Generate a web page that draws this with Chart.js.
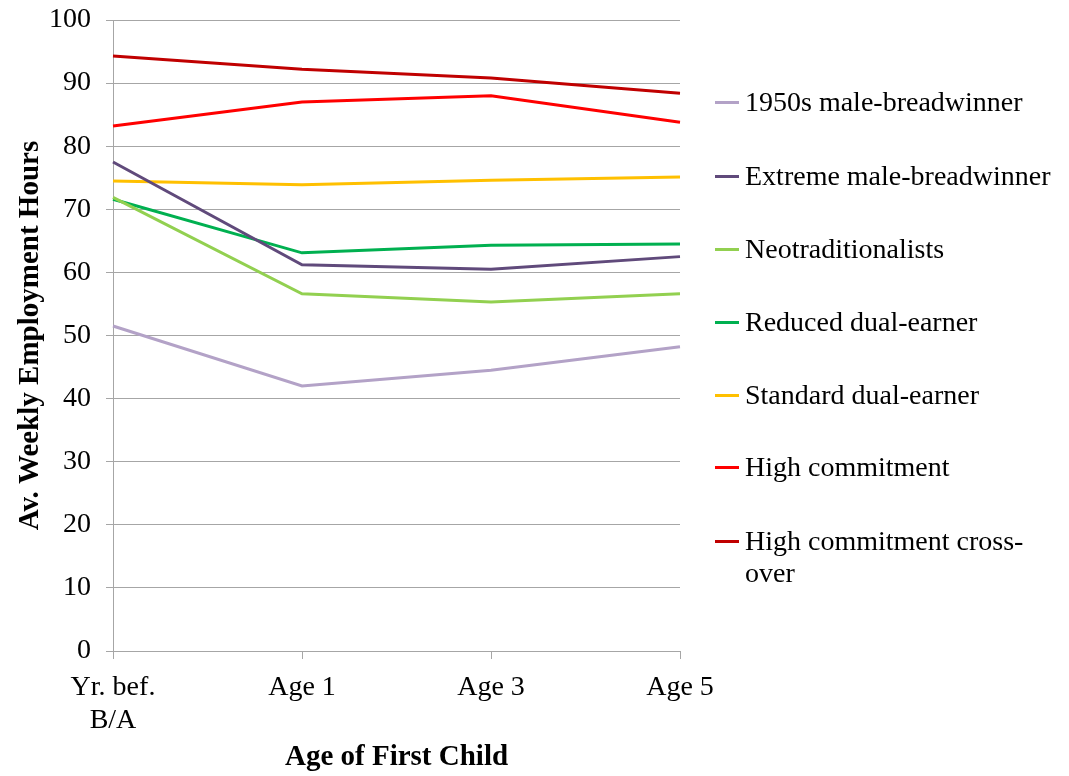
<!DOCTYPE html>
<html>
<head>
<meta charset="utf-8">
<script src="https://cdn.jsdelivr.net/npm/chart.js@4/dist/chart.umd.min.js"></script>
<style>
  html, body { margin:0; padding:0; background:#fff; }
  #wrap { position:relative; width:1069px; height:776px; overflow:hidden; }
  canvas { position:absolute; left:0; top:0; }
  #legend { position:absolute; left:715px; top:0; font-family:"Liberation Serif","Times New Roman",serif; font-size:28px; color:#000; }
  .item { position:absolute; left:0; width:354px; display:flex; align-items:flex-start; }
  .sw { width:24px; height:3px; margin-top:15px; margin-right:6px; flex:none; }
  .lbl { line-height:32px; white-space:normal; width:324px; }
</style>
</head>
<body>
<div id="wrap">
<canvas id="c" width="1069" height="776"></canvas>
<div id="legend"></div>
</div>
<script>
const categories = [["Yr. bef.","B/A"], "Age 1", "Age 3", "Age 5"];
const seriesNames = ["1950s male-breadwinner","Extreme male-breadwinner","Neotraditionalists","Reduced dual-earner","Standard dual-earner","High commitment","High commitment cross-over"];
const maleBreadwinner1950s = [51.5, 42.0, 44.5, 48.2];
const extremeMaleBreadwinner = [77.5, 61.2, 60.5, 62.5];
const neotraditionalists = [71.9, 56.6, 55.3, 56.6];
const reducedDualEarner = [71.6, 63.1, 64.3, 64.5];
const standardDualEarner = [74.5, 73.9, 74.6, 75.1];
const highCommitment = [83.2, 87.0, 88.0, 83.8];
const highCommitmentCrossover = [94.3, 92.2, 90.8, 88.4];
const colors = ["#B3A2C7","#604A7B","#92D050","#00B050","#FFC000","#FF0000","#C00000"];
const yTicks = [0,10,20,30,40,50,60,70,80,90,100];

const allData = [maleBreadwinner1950s, extremeMaleBreadwinner, neotraditionalists, reducedDualEarner, standardDualEarner, highCommitment, highCommitmentCrossover];
const FONT = "'Liberation Serif','Times New Roman',serif";

new Chart(document.getElementById('c'), {
  type: 'line',
  data: {
    labels: categories,
    datasets: allData.map((d,i)=>({
      label: seriesNames[i], data: d, borderColor: colors[i], backgroundColor: colors[i],
      borderWidth: 3, pointRadius: 0, tension: 0, fill: false
    }))
  },
  options: {
    responsive: false, animation: false,
    layout: { padding: { left: 0, top: 20, right: 389, bottom: 0 } },
    plugins: { legend: { display: false }, tooltip: { enabled: false } },
    scales: {
      x: {
        offset: false,
        grid: { drawOnChartArea: false, color: '#A6A6A6', tickLength: 8, tickColor: '#A6A6A6' },
        border: { color: '#A6A6A6', width: 1 },
        ticks: { font: { family: FONT, size: 28, lineHeight: 1.15 }, color: '#000', padding: 13, maxRotation: 0, autoSkip: false },
        title: { display: true, text: 'Age of First Child', font: { family: FONT, size: 29, weight: 'bold' }, color: '#000', padding: { top: 14, bottom: 1 } },
        afterFit: s => { s.height = 125; }
      },
      y: {
        min: 0, max: 100,
        afterBuildTicks: s => { s.ticks = yTicks.map(v=>({value:v})); },
        grid: { color: '#A6A6A6', tickLength: 7, tickColor: '#A6A6A6' },
        border: { color: '#A6A6A6', width: 1 },
        ticks: { font: { family: FONT, size: 28, lineHeight: 0.6 }, color: '#000', padding: 15 },
        title: { display: true, text: 'Av. Weekly Employment Hours', font: { family: FONT, size: 29, weight: 'bold' }, color: '#000', padding: { top: 13, bottom: 6 } },
        afterFit: s => { s.width = 113; s.paddingTop = 0; s.paddingBottom = 0; }
      }
    }
  }
});

const leg = document.getElementById('legend');
const tops = [86, 160, 233, 306, 379, 451, 525];
seriesNames.forEach((n,i)=>{
  const it = document.createElement('div');
  it.className = 'item';
  it.style.top = tops[i] + 'px';
  const sw = document.createElement('div'); sw.className='sw'; sw.style.background = colors[i];
  const lb = document.createElement('div'); lb.className='lbl';
  lb.textContent = n === "High commitment cross-over" ? "High commitment cross-\u200Bover" : n;
  it.appendChild(sw); it.appendChild(lb); leg.appendChild(it);
});
</script>
</body>
</html>
